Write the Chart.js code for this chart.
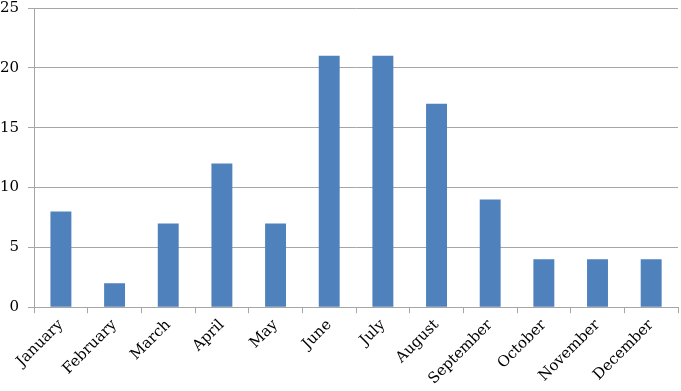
<!DOCTYPE html>
<html>
<head>
<meta charset="utf-8">
<script src="https://cdn.jsdelivr.net/npm/chart.js@4"></script>
<style>
    html, body { margin: 0; padding: 0; background: #fff; }
    #wrap { width: 681px; height: 391px; }
</style>
</head>
<body>
<div id="wrap"><canvas id="monthChart"></canvas></div>
<script>
// Data
const months = ['January', 'February', 'March', 'April', 'May', 'June',
    'July', 'August', 'September', 'October', 'November', 'December'];
const counts = [8, 2, 7, 12, 7, 21, 21, 17, 9, 4, 4, 4];
const yTicks = [0, 5, 10, 15, 20, 25];

const gridGray = '#a6a6a6';

document.addEventListener('DOMContentLoaded', function() {
    const ctx = document.getElementById('monthChart').getContext('2d');

    new Chart(ctx, {
        type: 'bar',
        data: {
            labels: months,
            datasets: [{
                data: counts,
                backgroundColor: '#4f81bd',
                borderWidth: 0,
                categoryPercentage: 1,
                barPercentage: 0.39
            }]
        },
        options: {
            responsive: true,
            maintainAspectRatio: false,
            animation: false,
            layout: { padding: { top: 8, right: 3, left: -9, bottom: 0 } },
            plugins: {
                legend: { display: false },
                tooltip: { enabled: false }
            },
            scales: {
                x: {
                    afterFit: function(axis) {
                        // let the first rotated label hang past the left edge like the original
                        axis.paddingLeft = 0;
                    },
                    grid: {
                        offset: true,
                        drawOnChartArea: false,
                        drawTicks: true,
                        tickLength: 6,
                        color: gridGray
                    },
                    border: { color: gridGray },
                    ticks: {
                        color: '#000',
                        font: { family: 'DejaVu Serif', size: 15 },
                        minRotation: 45,
                        maxRotation: 45,
                        padding: 3
                    }
                },
                y: {
                    min: 0,
                    max: 25,
                    afterBuildTicks: function(axis) {
                        axis.ticks = yTicks.map(v => ({ value: v }));
                    },
                    afterFit: function(axis) {
                        axis.paddingTop = 0;
                    },
                    grid: {
                        color: gridGray,
                        tickLength: 6
                    },
                    border: { color: gridGray },
                    ticks: {
                        color: '#000',
                        font: { family: 'DejaVu Serif', size: 15 },
                        padding: 9
                    }
                }
            }
        }
    });
});
</script>
</body>
</html>
